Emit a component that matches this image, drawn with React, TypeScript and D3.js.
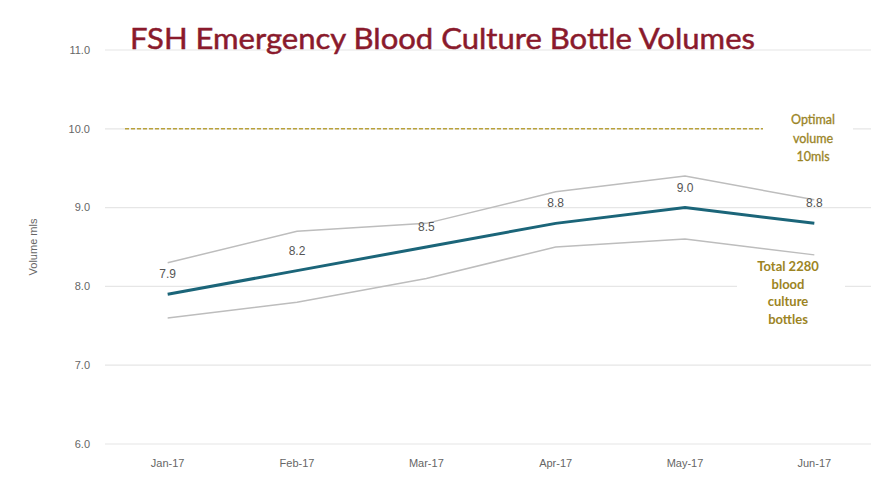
import React from "react";
import * as d3 from "d3";

const months = ["Jan-17", "Feb-17", "Mar-17", "Apr-17", "May-17", "Jun-17"];
const meanVolume = [7.9, 8.2, 8.5, 8.8, 9.0, 8.8];
const upperVolume = [8.3, 8.7, 8.8, 9.2, 9.4, 9.1];
const lowerVolume = [7.6, 7.8, 8.1, 8.5, 8.6, 8.4];
const yTicks = [6, 7, 8, 9, 10, 11];
const optimalVolume = 10;
const optimalNote = ["Optimal", "volume", "10mls"];
const totalNote = ["Total 2280", "blood", "culture", "bottles"];

const W = 871;
const H = 500;

export default function App() {
  const x = d3.scaleBand<string>().domain(months).range([103, 879]);
  const cx = (m: string) => (x(m) as number) + x.bandwidth() / 2;
  const y = d3.scaleLinear().domain([6, 11]).range([444, 50]);
  const line = d3
    .line<number>()
    .x((_, i) => cx(months[i]))
    .y((d) => y(d));
  return (
    <svg
      width={W}
      height={H}
      style={{ position: "absolute", left: 0, top: 0, background: "#fff" }}
    >
      <rect x={0} y={0} width={W} height={H} fill="#fff" />
      {yTicks.map((t) => (
        <g key={t}>
          <line x1={105} x2={W} y1={y(t)} y2={y(t)} stroke="#e6e6e6" strokeWidth={1.2} />
          <text
            x={90}
            y={y(t)}
            dy="0.35em"
            textAnchor="end"
            fontFamily="Liberation Sans, Arial, sans-serif"
            fontSize={11}
            fill="#666"
          >
            {t.toFixed(1)}
          </text>
        </g>
      ))}
      <text
        transform={`translate(37,${y(8.5)}) rotate(-90)`}
        textAnchor="middle"
        fontFamily="Liberation Sans, Arial, sans-serif"
        fontSize={11}
        fill="#666"
      >
        Volume mls
      </text>
      {months.map((m) => (
        <text
          key={m}
          x={cx(m)}
          y={467}
          textAnchor="middle"
          fontFamily="Liberation Sans, Arial, sans-serif"
          fontSize={11}
          fill="#666"
        >
          {m}
        </text>
      ))}
      {/* white boxes behind annotations */}
      <rect x={763} y={108} width={90} height={56} fill="#fff" />
      <rect x={737} y={255} width={108} height={72} fill="#fff" />
      <line
        x1={125}
        x2={763}
        y1={y(optimalVolume)}
        y2={y(optimalVolume)}
        stroke="#b9a23c"
        strokeWidth={1.6}
        strokeDasharray="4,2"
      />
      <path d={line(upperVolume) || ""} fill="none" stroke="#bdbdbd" strokeWidth={1.5} />
      <path d={line(lowerVolume) || ""} fill="none" stroke="#bdbdbd" strokeWidth={1.5} />
      <path d={line(meanVolume) || ""} fill="none" stroke="#1b6579" strokeWidth={3} />
      {meanVolume.map((v, i) => (
        <text
          key={i}
          x={cx(months[i])}
          y={y(v) - 16}
          textAnchor="middle"
          fontFamily="Liberation Sans, Arial, sans-serif"
          fontSize={12}
          fill="#555"
        >
          {v.toFixed(1)}
        </text>
      ))}
      {optimalNote.map((s, i) => (
        <text
          key={s}
          x={813}
          y={124 + i * 18.5}
          textAnchor="middle"
          fontFamily="Lato, sans-serif"
          fontSize={12.5}
          fill="#9a8426"
          stroke="#9a8426"
          strokeWidth={0.3}
        >
          {s}
        </text>
      ))}
      {totalNote.map((s, i) => (
        <text
          key={s}
          x={788}
          y={271 + i * 17.7}
          textAnchor="middle"
          fontFamily="Lato, sans-serif"
          fontWeight="bold"
          fontSize={13}
          fill="#9c8424"
        >
          {s}
        </text>
      ))}
      <text
        x={130}
        y={49}
        fontFamily="Lato, sans-serif"
        fontSize={29}
        fill="#8a1a2c"
        stroke="#8a1a2c"
        strokeWidth={0.5}
        textLength={625}
        lengthAdjust="spacingAndGlyphs"
      >
        FSH Emergency Blood Culture Bottle Volumes
      </text>
    </svg>
  );
}
